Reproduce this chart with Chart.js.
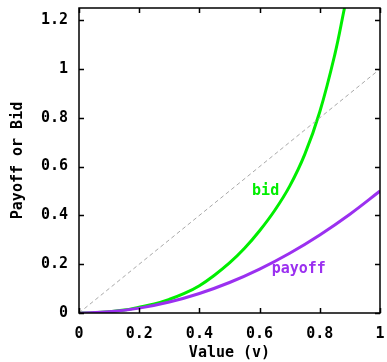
<!DOCTYPE html>
<html>
<head>
<meta charset="utf-8">
<script src="https://cdn.jsdelivr.net/npm/chart.js@4/dist/chart.umd.min.js"></script>
<style>
  html, body { margin: 0; padding: 0; background: #fff; }
</style>
</head>
<body>
<canvas id="myChart" width="387" height="362"></canvas>
<script>
// values
var bidX = [0, 0.05, 0.1, 0.15, 0.2, 0.25, 0.3, 0.35, 0.4, 0.45, 0.5, 0.55, 0.6, 0.65, 0.7, 0.75, 0.8, 0.85, 0.882];
var bidY = [0, 0.001, 0.005, 0.012, 0.024, 0.037, 0.056, 0.08, 0.112, 0.155, 0.205, 0.265, 0.337, 0.42, 0.52, 0.65, 0.825, 1.06, 1.25];
var payoffX = [0, 0.1, 0.2, 0.3, 0.4, 0.5, 0.6, 0.7, 0.8, 0.9, 1];
var payoffY = [0, 0.005, 0.02, 0.045, 0.08, 0.125, 0.18, 0.245, 0.32, 0.405, 0.5];
var diagX = [0, 1];
var diagY = [0, 1];
var xTickVals = [0, 0.2, 0.4, 0.6, 0.8, 1];
var yTickVals = [0, 0.2, 0.4, 0.6, 0.8, 1, 1.2];

var fontFam = "'DejaVu Sans Mono', 'Liberation Mono', monospace";
var green = "#00ee00";
var purple = "#9b30f0";

function pts(xs, ys) {
  return xs.map(function (x, i) { return { x: x, y: ys[i] }; });
}

function fmt(v) {
  return String(Math.round(v * 10) / 10);
}

// gnuplot-like frame: border, inward ticks on all four sides, curve labels
var frame = {
  id: "frame",
  afterDatasetsDraw: function (chart) {
    var ctx = chart.ctx;
    var a = chart.chartArea;
    var xs = chart.scales.x, ys = chart.scales.y;
    var t = 5;
    ctx.save();
    ctx.strokeStyle = "#000";
    ctx.lineWidth = 1.5;
    ctx.beginPath();
    xTickVals.forEach(function (v) {
      var px = Math.round(xs.getPixelForValue(v)) + 0.5;
      ctx.moveTo(px, a.bottom); ctx.lineTo(px, a.bottom - t);
      ctx.moveTo(px, a.top); ctx.lineTo(px, a.top + t);
    });
    yTickVals.forEach(function (v) {
      var py = Math.round(ys.getPixelForValue(v)) + 0.5;
      ctx.moveTo(a.left, py); ctx.lineTo(a.left + t, py);
      ctx.moveTo(a.right, py); ctx.lineTo(a.right - t, py);
    });
    ctx.stroke();
    ctx.strokeRect(a.left, a.top, a.right - a.left, a.bottom - a.top);

    ctx.font = "bold 15px " + fontFam;
    ctx.textAlign = "center";
    ctx.textBaseline = "middle";
    ctx.fillStyle = green;
    ctx.fillText("bid", xs.getPixelForValue(0.62), ys.getPixelForValue(0.5));
    ctx.fillStyle = purple;
    ctx.fillText("payoff", xs.getPixelForValue(0.73), ys.getPixelForValue(0.18));
    ctx.restore();
  }
};

var ctx = document.getElementById("myChart").getContext("2d");
var myChart = new Chart(ctx, {
  type: "line",
  data: {
    datasets: [
      {
        label: "diagonal",
        data: pts(diagX, diagY),
        borderColor: "#a8a8a8",
        borderWidth: 1,
        borderDash: [4, 3],
        pointRadius: 0
      },
      {
        label: "payoff",
        data: pts(payoffX, payoffY),
        borderColor: purple,
        borderWidth: 3,
        pointRadius: 0,
        tension: 0.4
      },
      {
        label: "bid",
        data: pts(bidX, bidY),
        borderColor: green,
        borderWidth: 3,
        pointRadius: 0,
        tension: 0.4
      }
    ]
  },
  options: {
    responsive: false,
    animation: false,
    layout: { padding: { top: 8, right: 7, left: 0, bottom: 0 } },
    plugins: { legend: { display: false }, tooltip: { enabled: false } },
    scales: {
      x: {
        type: "linear",
        min: 0,
        max: 1,
        grid: { display: false, drawTicks: false },
        border: { display: false },
        afterBuildTicks: function (s) {
          s.ticks = xTickVals.map(function (v) { return { value: v }; });
        },
        afterFit: function (s) {
          s.height = 49;
          s.paddingLeft = 0;
          s.paddingRight = 0;
        },
        ticks: {
          padding: 12,
          maxRotation: 0,
          color: "#000",
          font: { family: fontFam, size: 15, weight: "bold" },
          callback: fmt
        },
        title: {
          display: true,
          text: "Value (v)",
          color: "#000",
          padding: { top: 7, bottom: 0 },
          font: { family: fontFam, size: 15, weight: "bold" }
        }
      },
      y: {
        type: "linear",
        min: 0,
        max: 1.25,
        grid: { display: false, drawTicks: false },
        border: { display: false },
        afterBuildTicks: function (s) {
          s.ticks = yTickVals.map(function (v) { return { value: v }; });
        },
        afterFit: function (s) {
          s.width = 79;
          s.paddingTop = 0;
          s.paddingBottom = 0;
        },
        ticks: {
          padding: 11,
          color: "#000",
          font: { family: fontFam, size: 15, weight: "bold" },
          callback: fmt
        },
        title: {
          display: true,
          text: "Payoff or Bid",
          color: "#000",
          padding: { top: 9, bottom: 0 },
          font: { family: fontFam, size: 15, weight: "bold" }
        }
      }
    }
  },
  plugins: [frame]
});
</script>
</body>
</html>
